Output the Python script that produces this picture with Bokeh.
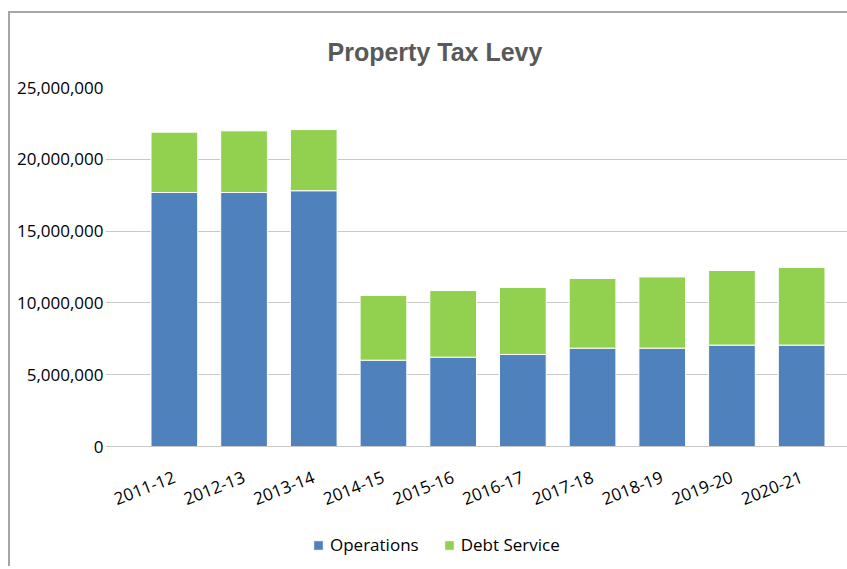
from bokeh.plotting import figure
from bokeh.models import Range1d, FactorRange, NumeralTickFormatter, FixedTicker
from bokeh.embed import file_html
from bokeh.resources import INLINE

years = ["2011-12", "2012-13", "2013-14", "2014-15", "2015-16",
         "2016-17", "2017-18", "2018-19", "2019-20", "2020-21"]
operations = [17690000, 17690000, 17810000, 6010000, 6220000,
              6410000, 6850000, 6850000, 7060000, 7060000]
debt_service = [4200000, 4290000, 4260000, 4510000, 4640000,
                4660000, 4850000, 4960000, 5200000, 5410000]
y_ticks = [0, 5000000, 10000000, 15000000, 20000000, 25000000]

series = ["operations", "debt_service"]
labels = ["Operations", "Debt Service"]
colors = ["#4F81BD", "#92D050"]

data = {"years": years, "operations": operations, "debt_service": debt_service}

# layout: value area is 359 px tall for 0..25M; the frame is extended 120 px
# below zero so that the legend can sit inside it, and a little to the sides
# so that the first rotated category label is not clipped
plot_px = 359
extra_px = 120
y_max = 25000000
y_min = -y_max * extra_px / plot_px
cat_px = 69.7
side_px = 34
pad_units = side_px / cat_px

x_range = FactorRange(factors=years, range_padding=pad_units, range_padding_units="absolute")

p = figure(x_range=x_range, y_range=Range1d(y_min, y_max),
           frame_width=int(round(len(years) * cat_px + 2 * side_px)),
           frame_height=plot_px + extra_px,
           output_backend="svg", toolbar_location=None,
           min_border_left=95, min_border_right=0, min_border_top=74, min_border_bottom=0,
           styles={"border-top": "2px solid #a6a6a6", "border-left": "2px solid #a6a6a6",
                   "margin-left": "8px", "margin-top": "11px"})

p.vbar_stack(series, x="years", width=0.67, source=data, color=colors,
             line_color="white", line_width=1, legend_label=labels)

p.title.text = "Property Tax Levy"
p.title.text_font = "Liberation Sans"
p.title.text_font_size = "25px"
p.title.text_font_style = "bold"
p.title.text_color = "#595959"
p.title.align = "left"
p.title.offset = 222
p.title.standoff = 44

p.outline_line_color = None
p.xgrid.grid_line_color = None
p.ygrid.grid_line_color = "#C8C8C8"
p.ygrid.grid_line_width = 1

p.yaxis.ticker = FixedTicker(ticks=y_ticks)
p.yaxis.formatter = NumeralTickFormatter(format="0,0")
p.yaxis.axis_line_color = None
p.yaxis.major_tick_line_color = None
p.yaxis.minor_tick_line_color = None
p.yaxis.major_tick_out = 0
p.yaxis.major_label_standoff = 2
p.yaxis.major_label_text_font = "Open Sans"
p.yaxis.major_label_text_font_size = "17px"
p.yaxis.major_label_text_color = "#000000"

p.xaxis.fixed_location = 0
p.xaxis.axis_line_color = "#C8C8C8"
p.xaxis.major_tick_line_color = None
p.xaxis.major_tick_out = 0
p.xaxis.major_label_orientation = 0.37
p.xaxis.major_label_standoff = 30
p.xaxis.major_label_text_font = "Open Sans"
p.xaxis.major_label_text_font_size = "17px"
p.xaxis.major_label_text_color = "#000000"

leg = p.legend[0]
leg.orientation = "horizontal"
leg.location = (207, 10)
leg.border_line_color = None
leg.background_fill_alpha = 0
leg.padding = 0
leg.margin = 0
leg.spacing = 24
leg.glyph_width = 12
leg.glyph_height = 12
leg.label_standoff = 6
leg.label_text_font = "Open Sans"
leg.label_text_font_size = "17px"
leg.label_text_color = "#000000"

open("out.html", "w").write(file_html(p, INLINE))
